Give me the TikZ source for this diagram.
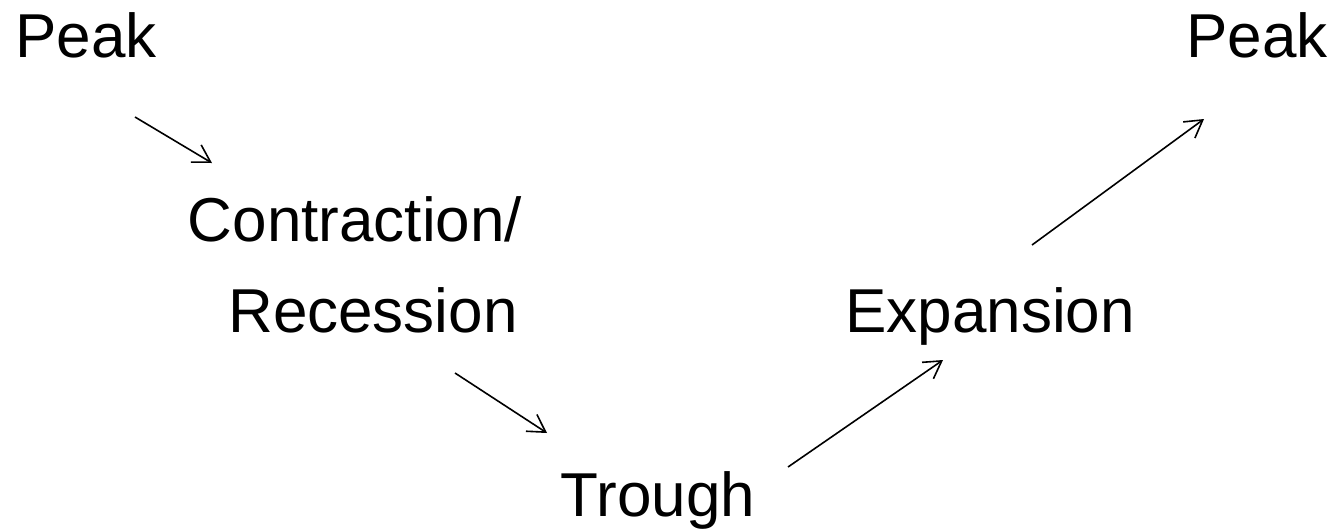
\documentclass[tikz,border=0pt]{standalone}
\usepackage{fontspec}
\setmainfont{Liberation Sans}
\usetikzlibrary{arrows.meta}
\begin{document}
\begin{tikzpicture}[x=1pt,y=-1pt,
  lbl/.style={inner sep=0pt,anchor=base,font=\fontsize{62}{74}\selectfont},
  conn/.style={line width=1.6pt,-{Straight Barb[length=17pt,width=20pt,line width=1.6pt]}}]
\useasboundingbox (0,0) rectangle (1339,531);
\node[lbl] (peakL) at (86,57) {Peak};
\node[lbl] (peakR) at (1257,57) {Peak};
\node[lbl] (contr) at (355,241) {Contraction/};
\node[lbl] (reces) at (373,332) {Recession};
\node[lbl] (expan) at (990,332) {Expansion};
\node[lbl] (trough) at (658,516) {Trough};
\coordinate (a1s) at (135,117);
\coordinate (a1e) at (212,163);
\coordinate (a2s) at (455,373);
\coordinate (a2e) at (547,433);
\coordinate (a3s) at (788,467);
\coordinate (a3e) at (943,360);
\coordinate (a4s) at (1032,245);
\coordinate (a4e) at (1204,119);
\draw[conn] (a1s) -- (a1e);
\draw[conn] (a2s) -- (a2e);
\draw[conn] (a3s) -- (a3e);
\draw[conn] (a4s) -- (a4e);
\end{tikzpicture}
\end{document}
